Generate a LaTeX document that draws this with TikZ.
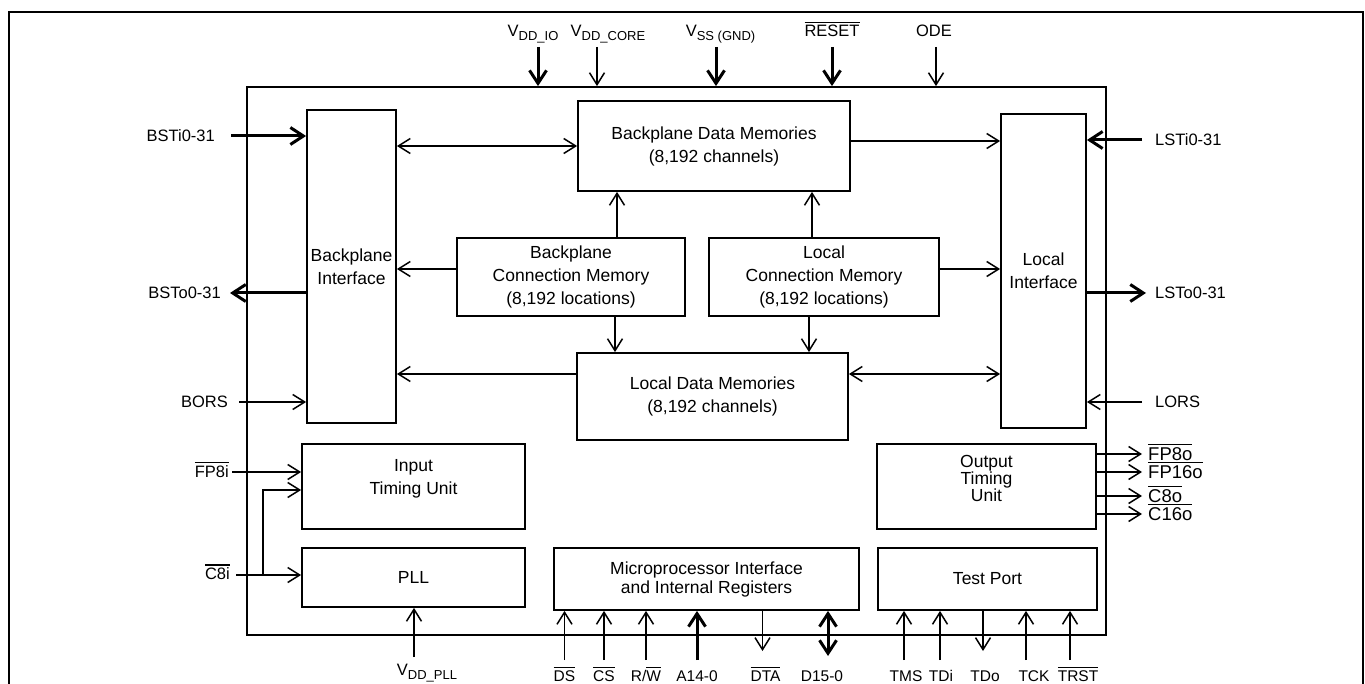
\documentclass[tikz,border=0pt]{standalone}
\usepackage{fontspec}
\setmainfont{Liberation Sans}
\usetikzlibrary{positioning,arrows.meta}
\newcommand{\ovl}[1]{\vbox{\hrule height 1.2pt\kern 2pt\hbox{#1}}}
\newcommand{\pinsub}[1]{\raisebox{-4pt}{\fontsize{13}{13}\selectfont #1}}
\tikzset{blockbox/.style={draw, line width=1.8pt, align=center, inner sep=0pt, font=\fontsize{17.5}{23}\selectfont},
boxtext/.style={align=center, inner sep=0pt, font=\fontsize{17.5}{23}\selectfont},
chipbox/.style={draw, line width=1.8pt, inner sep=0pt},
thinwire/.style={line width=1.5pt},
thickwire/.style={line width=3pt, >={Straight Barb[length=13pt,width=17pt]}},
pinlabel/.style={inner sep=0pt, font=\fontsize{16.5}{18}\selectfont},
botlabel/.style={inner sep=0pt, anchor=base, font=\fontsize{15.5}{17}\selectfont},
outlabel/.style={inner sep=0pt, anchor=base west, font=\fontsize{18.5}{20}\selectfont}}

\begin{document}
\begin{tikzpicture}[x=1pt, y=-1pt, >={Straight Barb[length=12pt,width=15pt]}]
\useasboundingbox (0,0) rectangle (1365,684);
% page frame
\draw[line width=2.5pt] (9,684) -- (9,12) -- (1363,12) -- (1363,684);
\node[chipbox, minimum width=859, minimum height=548] (chip) at (676.5,361) {};

% blocks
\node[blockbox, minimum width=89, minimum height=313] (bi) at (351.5,266.5) {Backplane\\Interface};
\node[blockbox, minimum width=272, minimum height=90] (bdm) at (714,146) {Backplane Data Memories\\(8,192 channels)};
\node[blockbox, minimum width=228, minimum height=78] (bcm) at (571,277) {Backplane\\Connection Memory\\(8,192 locations)};
\node[blockbox, minimum width=230, minimum height=78] (lcm) at (824,277) {Local\\Connection Memory\\(8,192 locations)};
\node[blockbox, minimum width=271, minimum height=87] (ldm) at (712.5,396.5) {Local Data Memories\\(8,192 channels)};
\node[blockbox, minimum width=85, minimum height=314] (li) at (1043.5,271) {Local\\Interface};
\node[blockbox, minimum width=223, minimum height=85] (itu) at (413.5,486.5) {};
\node[boxtext] (itutxt) at ([yshift=7.5pt]itu.center) {Input\\Timing Unit};
\node[blockbox, minimum width=223, minimum height=59] (pll) at (413.5,577.5) {PLL};
\node[blockbox, minimum width=305, minimum height=62, font=\fontsize{17.5}{19}\selectfont] (mp) at (706.5,579) {Microprocessor Interface\\and Internal Registers};
\node[blockbox, minimum width=219, minimum height=62] (tp) at (987.5,579) {Test Port};
\node[blockbox, minimum width=219, minimum height=85] (otu) at (986.5,486.5) {};
\node[boxtext, font=\fontsize{17.5}{15.5}\selectfont] (otutxt) at ([yshift=8pt]otu.center) {Output\\Timing\\Unit};

% inside connections
\draw[thinwire, <->] (bdm.west) -- (bdm.west -| bi.east);
\draw[thinwire, ->] ([yshift=5pt]bdm.east) -- ([yshift=5pt]bdm.east -| li.west);
\draw[thinwire, ->] ([xshift=46pt]bcm.north) -- ([xshift=46pt]bcm.north |- bdm.south);
\draw[thinwire, ->] ([xshift=-12pt]lcm.north) -- ([xshift=-12pt]lcm.north |- bdm.south);
\draw[thinwire, ->] ([yshift=8pt]bcm.west) -- ([yshift=8pt]bcm.west -| bi.east);
\draw[thinwire, ->] ([yshift=8pt]lcm.east) -- ([yshift=8pt]lcm.east -| li.west);
\draw[thinwire, ->] ([xshift=44pt]bcm.south) -- ([xshift=44pt]bcm.south |- ldm.north);
\draw[thinwire, ->] ([xshift=-15pt]lcm.south) -- ([xshift=-15pt]lcm.south |- ldm.north);
\draw[thinwire, ->] ([yshift=22.5pt]ldm.west) -- ([yshift=22.5pt]ldm.west -| bi.east);
\draw[thinwire, <->] ([yshift=22.5pt]ldm.east) -- ([yshift=22.5pt]ldm.east -| li.west);

% top pins
\coordinate (vio) at (538,47);
\coordinate (vcore) at (597,47);
\coordinate (vss) at (716,47);
\coordinate (rst) at (832,47);
\coordinate (ode) at (936,47);
\draw[thickwire, ->] (vio) -- (vio |- chip.north);
\draw[thinwire, ->] (vcore) -- (vcore |- chip.north);
\draw[thickwire, ->] (vss) -- (vss |- chip.north);
\draw[thickwire, ->] (rst) -- (rst |- chip.north);
\draw[thinwire, ->] (ode) -- (ode |- chip.north);
\node[pinlabel, anchor=base] (violbl) at ([xshift=-5pt, yshift=10pt]vio) {V\pinsub{DD\_IO}};
\node[pinlabel, anchor=base] (vcorelbl) at ([xshift=11pt, yshift=10pt]vcore) {V\pinsub{DD\_CORE}};
\node[pinlabel, anchor=base] (vsslbl) at ([xshift=4.5pt, yshift=10pt]vss) {V\pinsub{SS (GND)}};
\node[pinlabel, anchor=base] (rstlbl) at ([yshift=10pt]rst) {\ovl{RESET}};
\node[pinlabel, anchor=base] (odelbl) at ([xshift=-2pt, yshift=10pt]ode) {ODE};

% left pins
\coordinate (bsti) at (231,136);
\coordinate (bsto) at (230,293);
\coordinate (bors) at (239,402);
\coordinate (fp8i) at (232,472);
\coordinate (c8i) at (236,575);
\coordinate (c8ij) at (263,575);
\draw[thickwire, ->] (bsti) -- (bsti -| bi.west);
\draw[thickwire, ->] (bsto -| bi.west) -- (bsto);
\draw[thinwire, ->] (bors) -- (bors -| bi.west);
\draw[thinwire, ->] (fp8i) -- (fp8i -| itu.west);
\draw[thinwire, ->] (c8i) -- (c8i -| pll.west);
\draw[thinwire, ->] (c8ij) |- ([yshift=-3.5pt]itu.west);
\node[pinlabel, anchor=base east] (bstilbl) at ([xshift=-16pt, yshift=-5.5pt]bsti) {BSTi0-31};
\node[pinlabel, anchor=base east] (bstolbl) at ([xshift=-9pt, yshift=-5.5pt]bsto) {BSTo0-31};
\node[pinlabel, anchor=base east] (borslbl) at ([xshift=-11pt, yshift=-5.5pt]bors) {BORS};
\node[pinlabel, anchor=base east] (fp8ilbl) at ([xshift=-3pt, yshift=-5pt]fp8i) {\ovl{FP8i}};
\node[pinlabel, anchor=base east] (c8ilbl) at ([xshift=-6pt, yshift=-4.5pt]c8i) {\ovl{C8i}};

% right pins
\coordinate (lsti) at (1142,140);
\coordinate (lsto) at (1146,293);
\coordinate (lors) at (1142,402);
\draw[thickwire, ->] (lsti) -- (lsti -| li.east);
\draw[thickwire, ->] (lsto -| li.east) -- (lsto);
\draw[thinwire, ->] (lors) -- (lors -| li.east);
\node[pinlabel, anchor=base west] (lstilbl) at ([xshift=13pt, yshift=-5.5pt]lsti) {LSTi0-31};
\node[pinlabel, anchor=base west] (lstolbl) at ([xshift=9pt, yshift=-5.5pt]lsto) {LSTo0-31};
\node[pinlabel, anchor=base west] (lorslbl) at ([xshift=13pt, yshift=-5.5pt]lors) {LORS};

% timing outputs
\coordinate (fp8o) at (1142,454);
\coordinate (fp16o) at (1142,472);
\coordinate (c8o) at (1142,496);
\coordinate (c16o) at (1142,514);
\foreach \p in {fp8o, fp16o, c8o, c16o}
  \draw[thinwire, ->] (otu.east |- \p) -- (\p);
\node[outlabel] (fp8olbl) at ([xshift=6pt, yshift=-6pt]fp8o) {\ovl{FP8o}};
\node[outlabel] (fp16olbl) at ([xshift=6pt, yshift=-6pt]fp16o) {\ovl{FP16o}};
\node[outlabel] (c8olbl) at ([xshift=6pt, yshift=-6pt]c8o) {\ovl{C8o}};
\node[outlabel] (c16olbl) at ([xshift=6pt, yshift=-6pt]c16o) {\ovl{C16o}};

% bottom pins
\coordinate (vpll) at (414,657);
\draw[thinwire, ->] (vpll) -- (vpll |- pll.south);
\node[pinlabel, anchor=base] (vplllbl) at ([xshift=13pt, yshift=-18pt]vpll) {V\pinsub{DD\_PLL}};
\coordinate (ds) at (564.5,660);
\coordinate (cs) at (604,660);
\coordinate (rw) at (646,660);
\coordinate (addr) at (697,660);
\coordinate (dta) at (762.5,651);
\coordinate (data) at (828,656);
\draw[thinwire, ->] (ds) -- (ds |- mp.south);
\draw[thinwire, ->] (cs) -- (cs |- mp.south);
\draw[thinwire, ->] (rw) -- (rw |- mp.south);
\draw[thickwire, ->] (addr) -- (addr |- mp.south);
\draw[thinwire, ->] (dta |- mp.south) -- (dta);
\draw[thickwire, <->] (data |- mp.south) -- (data);
\node[botlabel] (dslbl) at ([yshift=-21pt]ds) {\ovl{DS}};
\node[botlabel] (cslbl) at ([yshift=-21pt]cs) {\ovl{CS}};
\node[botlabel] (rwlbl) at ([yshift=-21pt]rw) {R/\ovl{W}};
\node[botlabel] (addrlbl) at ([yshift=-21pt]addr) {A14-0};
\node[botlabel] (dtalbl) at ([xshift=3pt, yshift=-30pt]dta) {\ovl{DTA}};
\node[botlabel] (datalbl) at ([xshift=-6pt, yshift=-25pt]data) {D15-0};
\coordinate (tms) at (904,660);
\coordinate (tdi) at (940,660);
\coordinate (tdo) at (983,651);
\coordinate (tck) at (1026,660);
\coordinate (trst) at (1070,660);
\draw[thinwire, ->] (tms) -- (tms |- tp.south);
\draw[thinwire, ->] (tdi) -- (tdi |- tp.south);
\draw[thinwire, ->] (tdo |- tp.south) -- (tdo);
\draw[thinwire, ->] (tck) -- (tck |- tp.south);
\draw[thinwire, ->] (trst) -- (trst |- tp.south);
\node[botlabel] (tmslbl) at ([xshift=2pt, yshift=-21pt]tms) {TMS};
\node[botlabel] (tdilbl) at ([xshift=1pt, yshift=-21pt]tdi) {TDi};
\node[botlabel] (tdolbl) at ([xshift=2pt, yshift=-30pt]tdo) {TDo};
\node[botlabel] (tcklbl) at ([xshift=8pt, yshift=-21pt]tck) {TCK};
\node[botlabel] (trstlbl) at ([xshift=8pt, yshift=-21pt]trst) {\ovl{TRST}};
\end{tikzpicture}
\end{document}
